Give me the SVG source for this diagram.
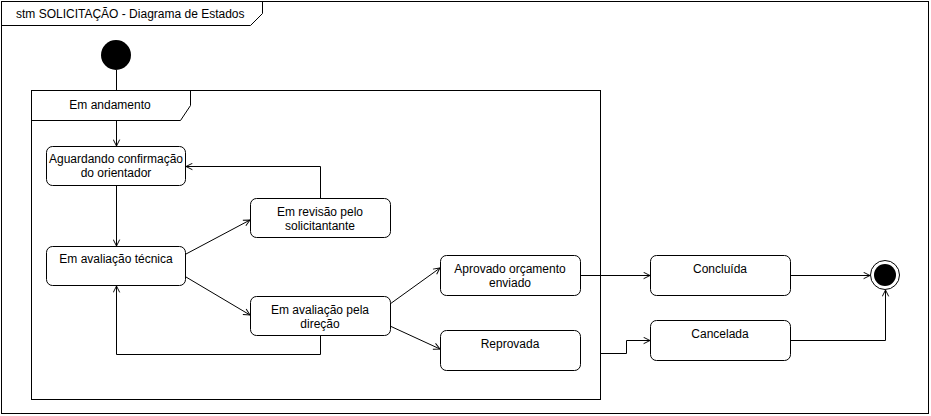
<svg xmlns="http://www.w3.org/2000/svg" width="931" height="416" viewBox="0 0 931 416">
<defs>
<style>
text{font-family:"Liberation Sans",Arial,sans-serif;font-size:12px;fill:#000;text-anchor:middle}
.frame{fill:#fff;stroke:#000;stroke-width:1}
.st{fill:#fff;stroke:#000;stroke-width:1}
.edge{fill:none;stroke:#000;stroke-width:1}
</style>
<marker id="arr" viewBox="0 0 10 10" refX="9" refY="5" markerWidth="8" markerHeight="8" markerUnits="userSpaceOnUse" orient="auto">
<path d="M1,1 L9,5 L1,9" fill="none" stroke="#000" stroke-width="1.2"/>
</marker>
</defs>
<rect x="0" y="0" width="931" height="416" fill="#fff"/>
<g id="frame">
<rect class="frame" x="1.5" y="1.5" width="927" height="412"/>
<path class="edge" d="M1.5,25.5 H250.5 L262.5,13.5 V1.5"/>
<text x="16" y="18" style="text-anchor:start">stm SOLICITAÇÃO - Diagrama de Estados</text>
</g>
<g id="composite">
<rect class="frame" x="31.5" y="90.5" width="569" height="309"/>
<path class="edge" d="M31.5,120.5 H180.5 L190.5,105.5 V90.5"/>
<text x="110" y="109">Em andamento</text>
</g>
<g id="initial">
<circle cx="116" cy="55" r="15" fill="#000"/>
</g>
<g id="aguardando">
<rect class="st" x="46.5" y="146.5" width="139" height="39" rx="6"/>
<text x="116" y="163">Aguardando confirmação</text>
<text x="116" y="177">do orientador</text>
</g>
<g id="tecnica">
<rect class="st" x="46.5" y="246.5" width="139" height="39" rx="6"/>
<text x="116" y="263">Em avaliação técnica</text>
</g>
<g id="revisao">
<rect class="st" x="250.5" y="198.5" width="140" height="39" rx="6"/>
<text x="320" y="216">Em revisão pelo</text>
<text x="320" y="230">solicitantante</text>
</g>
<g id="direcao">
<rect class="st" x="250.5" y="296.5" width="140" height="39" rx="6"/>
<text x="320" y="314">Em avaliação pela</text>
<text x="320" y="328">direção</text>
</g>
<g id="aprovado">
<rect class="st" x="440.5" y="255.5" width="140" height="40" rx="6"/>
<text x="510" y="273">Aprovado orçamento</text>
<text x="510" y="287">enviado</text>
</g>
<g id="reprovada">
<rect class="st" x="440.5" y="330.5" width="140" height="40" rx="6"/>
<text x="510" y="348">Reprovada</text>
</g>
<g id="concluida">
<rect class="st" x="650.5" y="255.5" width="140" height="40" rx="6"/>
<text x="720" y="273">Concluída</text>
</g>
<g id="cancelada">
<rect class="st" x="650.5" y="320.5" width="140" height="40" rx="6"/>
<text x="720" y="338">Cancelada</text>
</g>
<g id="final">
<circle cx="885" cy="275" r="14.5" fill="#fff" stroke="#000" stroke-width="1"/>
<circle cx="885" cy="275" r="11" fill="#000"/>
</g>
<g id="connectors">
<path class="edge" d="M116.5,70 V90.5"/>
<path class="edge" d="M116.5,120.5 V146" marker-end="url(#arr)"/>
<path class="edge" d="M116.5,186 V246" marker-end="url(#arr)"/>
<path class="edge" d="M186,254 L250,220" marker-end="url(#arr)"/>
<path class="edge" d="M186,277 L250,315" marker-end="url(#arr)"/>
<path class="edge" d="M320.5,198 V166.5 H186" marker-end="url(#arr)"/>
<path class="edge" d="M320.5,336 V354.5 H116.5 V286" marker-end="url(#arr)"/>
<path class="edge" d="M390,304 L440,268" marker-end="url(#arr)"/>
<path class="edge" d="M390,326 L440,349" marker-end="url(#arr)"/>
<path class="edge" d="M581,275.5 H650" marker-end="url(#arr)"/>
<path class="edge" d="M601,353.5 H626.5 V340.5 H650" marker-end="url(#arr)"/>
<path class="edge" d="M791,275.5 H870" marker-end="url(#arr)"/>
<path class="edge" d="M791,340.5 H885.5 V290" marker-end="url(#arr)"/>
</g>
</svg>
